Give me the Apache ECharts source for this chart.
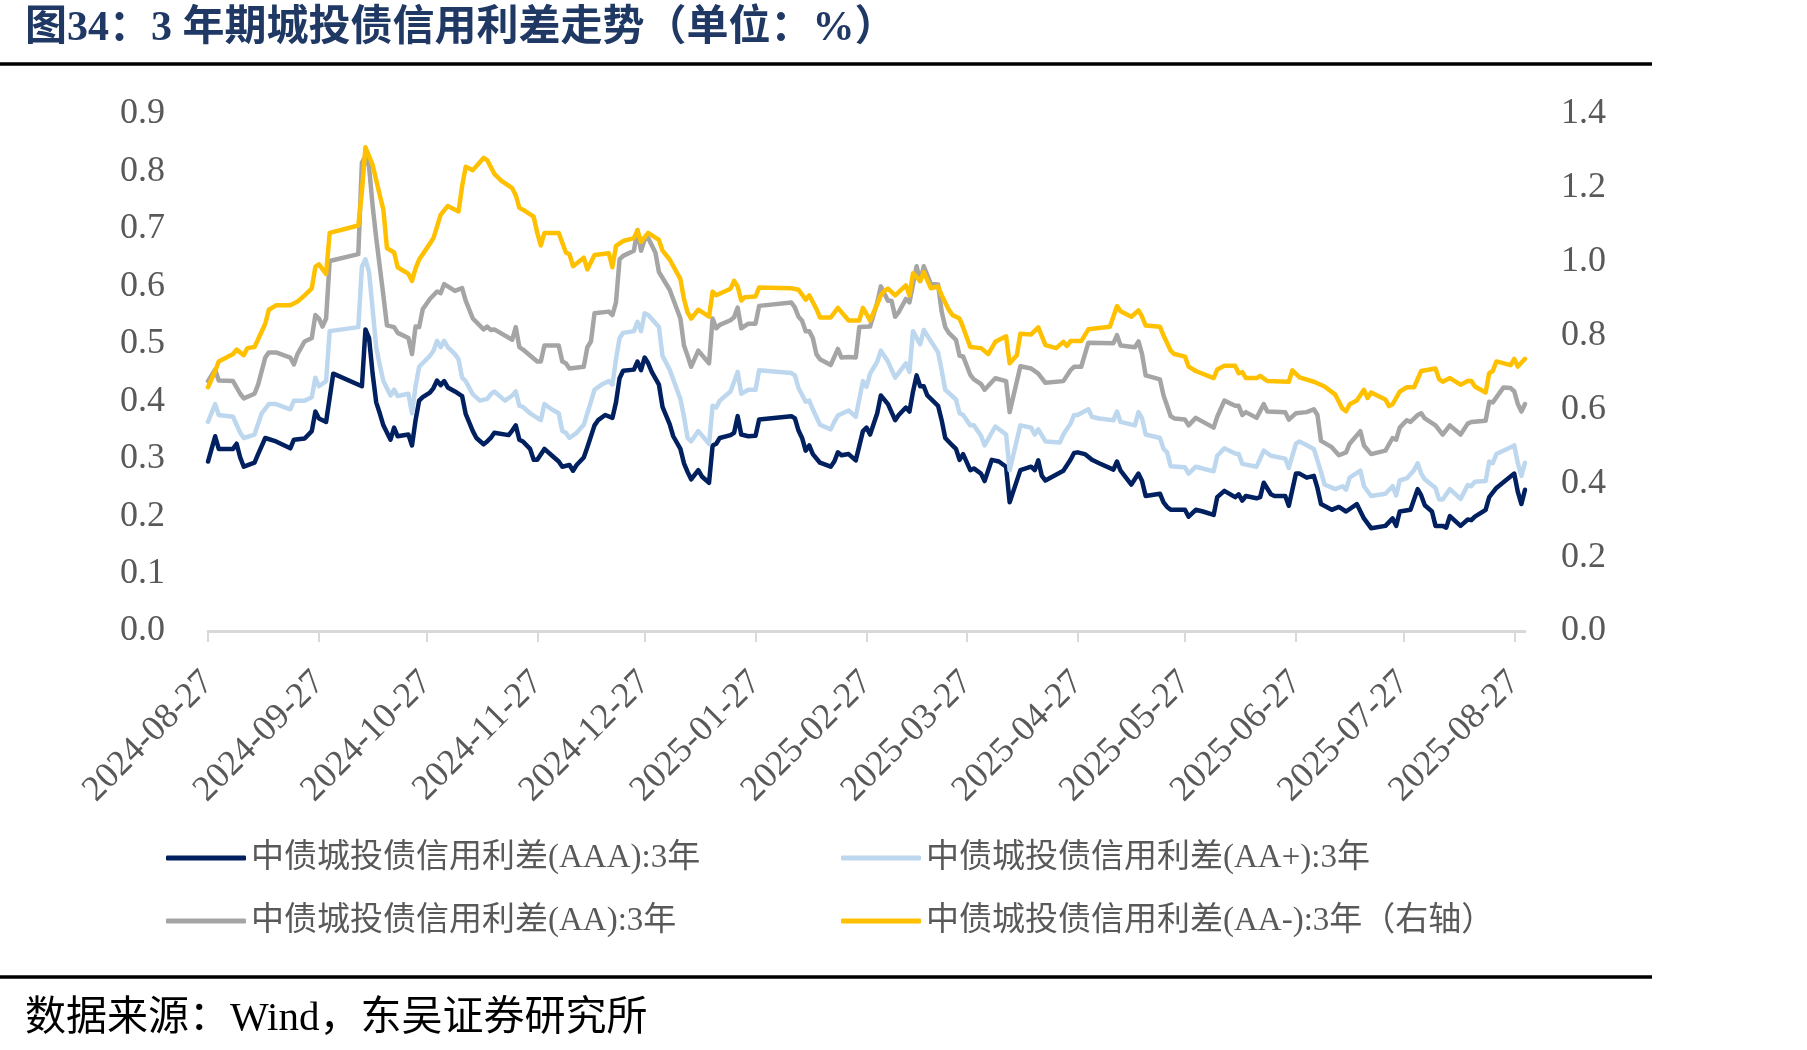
<!DOCTYPE html>
<html>
<head>
<meta charset="utf-8">
<title>3年期城投债信用利差走势</title>
<script src="https://cdn.jsdelivr.net/npm/echarts@6/dist/echarts.min.js"></script>
<style>
  html, body { margin: 0; padding: 0; background: #fff; }
  #chart { width: 1807px; height: 1050px; }
</style>
</head>
<body>
<div id="chart"></div>
<script>
// x values are calendar days counted from 2024-08-27
const tickDays = [0, 31, 61, 92, 122, 153, 184, 212, 243, 273, 304, 334, 365]
const tickLabels = ['2024-08-27', '2024-09-27', '2024-10-27', '2024-11-27', '2024-12-27', '2025-01-27',
  '2025-02-27', '2025-03-27', '2025-04-27', '2025-05-27', '2025-06-27', '2025-07-27', '2025-08-27']
const lastDay = 368

const seriesNames = ['中债城投债信用利差(AAA):3年', '中债城投债信用利差(AA+):3年',
  '中债城投债信用利差(AA):3年', '中债城投债信用利差(AA-):3年（右轴）']

// AAA
const aaaDays = [0,2,3,7,8,9,10,13,14,16,19,23,24,27,29,30,31,33,35,43,44,45,46,47,48,49,51,52,53,56,57,58,59,60,62,63,64,65,66,67,69,71,72,74,75,77,78,79,80,84,85,86,87,88,90,91,92,94,96,98,99,101,102,103,105,106,108,109,111,113,114,115,116,119,120,121,122,123,124,126,127,
  129,130,132,133,134,135,137,138,140,141,142,143,146,147,148,149,151,153,154,163,164,165,166,167,168,169,171,174,175,176,177,179,181,183,184,185,187,188,190,192,193,195,196,197,198,199,200,201,204,205,206,208,209,210,211,213,214,216,217,219,221,223,224,227,230,231,232,233,234,239,241,242,243,245,247,249,253,254,
  255,258,260,261,262,266,267,268,269,273,274,276,278,281,282,284,287,288,289,290,293,294,295,297,298,301,302,304,305,307,309,310,311,314,316,318,321,323,325,329,331,332,333,336,338,339,340,342,343,345,346,347,350,352,353,354,357,358,360,363,365,366,367,368]
const aaaVals = [0.295,0.339,0.317,0.317,0.326,0.302,0.286,0.293,0.308,0.336,0.330,0.318,0.333,0.335,0.348,0.382,0.370,0.364,0.448,0.426,0.525,0.510,0.448,0.398,0.379,0.358,0.333,0.354,0.339,0.342,0.323,0.367,0.401,0.407,0.415,0.423,0.436,0.428,0.435,0.424,0.417,0.409,0.378,0.348,0.336,0.325,0.330,0.336,0.345,0.341,0.349,0.358,0.333,0.330,0.317,0.298,0.298,0.317,0.306,0.295,0.286,0.289,0.279,0.289,0.302,0.320,0.358,0.367,0.376,0.371,0.398,0.440,0.453,0.455,0.469,0.454,0.476,0.466,0.451,0.429,0.390,
  0.360,0.339,0.317,0.292,0.277,0.264,0.280,0.269,0.258,0.323,0.326,0.336,0.341,0.345,0.374,0.342,0.339,0.340,0.368,0.374,0.370,0.349,0.336,0.314,0.323,0.308,0.293,0.286,0.295,0.311,0.306,0.308,0.297,0.348,0.354,0.342,0.379,0.410,0.395,0.367,0.376,0.389,0.382,0.417,0.445,0.426,0.426,0.410,0.392,0.367,0.336,0.323,0.317,0.298,0.308,0.280,0.283,0.274,0.261,0.298,0.295,0.286,0.224,0.280,0.286,0.280,0.297,0.270,0.262,0.279,0.298,0.310,0.311,0.308,0.298,0.292,0.281,0.295,
  0.279,0.255,0.274,0.261,0.235,0.239,0.224,0.216,0.211,0.211,0.199,0.211,0.208,0.202,0.233,0.244,0.233,0.238,0.227,0.235,0.231,0.233,0.258,0.238,0.235,0.235,0.218,0.274,0.274,0.267,0.270,0.249,0.221,0.211,0.216,0.208,0.221,0.196,0.179,0.183,0.196,0.183,0.208,0.211,0.247,0.236,0.219,0.208,0.183,0.183,0.180,0.200,0.183,0.194,0.193,0.199,0.211,0.233,0.249,0.264,0.274,0.242,0.221,0.246]

// AA+
const aapDays = [0,2,3,7,9,10,13,15,17,19,23,24,27,29,30,31,33,34,42,43,44,45,46,47,48,49,51,52,53,56,57,58,59,62,63,64,65,66,67,69,70,71,72,74,76,78,79,80,83,85,86,87,88,90,93,94,96,98,99,100,101,103,105,106,108,110,112,113,114,115,116,119,120,121,122,123,126,127,
  129,132,133,134,135,137,140,141,142,143,146,148,149,151,153,154,163,164,165,167,168,169,171,174,175,176,179,181,183,184,185,187,188,190,192,195,196,197,199,200,204,205,206,209,210,211,213,214,216,217,220,223,224,227,230,231,232,234,238,239,241,242,243,246,247,249,253,254,
  255,259,260,261,262,266,267,268,269,273,274,276,281,282,284,287,288,289,293,295,297,301,302,304,305,309,311,312,315,317,318,319,322,323,325,329,331,332,333,335,337,338,339,340,343,344,345,347,350,352,353,354,357,358,359,360,364,365,366,367,368]
const aapVals = [0.364,0.395,0.376,0.373,0.345,0.336,0.342,0.379,0.395,0.395,0.386,0.401,0.401,0.407,0.441,0.426,0.435,0.522,0.529,0.634,0.647,0.625,0.560,0.494,0.463,0.435,0.410,0.420,0.409,0.413,0.379,0.426,0.460,0.479,0.488,0.505,0.494,0.505,0.494,0.482,0.473,0.441,0.435,0.412,0.401,0.404,0.412,0.417,0.401,0.410,0.417,0.392,0.390,0.379,0.367,0.395,0.386,0.379,0.348,0.345,0.336,0.345,0.359,0.379,0.420,0.429,0.435,0.429,0.473,0.510,0.519,0.522,0.538,0.522,0.553,0.550,0.529,0.479,
  0.455,0.404,0.373,0.336,0.330,0.348,0.326,0.392,0.389,0.401,0.417,0.451,0.413,0.420,0.420,0.454,0.449,0.445,0.423,0.399,0.401,0.386,0.359,0.351,0.364,0.375,0.384,0.373,0.435,0.425,0.448,0.469,0.488,0.469,0.441,0.466,0.451,0.522,0.499,0.524,0.485,0.454,0.420,0.403,0.379,0.376,0.358,0.358,0.340,0.323,0.356,0.342,0.280,0.358,0.354,0.342,0.351,0.330,0.328,0.342,0.361,0.376,0.376,0.386,0.373,0.370,0.367,0.382,
  0.364,0.358,0.381,0.370,0.342,0.336,0.317,0.311,0.287,0.285,0.274,0.286,0.278,0.305,0.318,0.309,0.308,0.291,0.286,0.314,0.305,0.300,0.284,0.326,0.330,0.317,0.277,0.255,0.247,0.252,0.246,0.267,0.279,0.252,0.235,0.239,0.252,0.236,0.262,0.266,0.280,0.292,0.274,0.264,0.249,0.229,0.229,0.247,0.230,0.254,0.252,0.260,0.261,0.295,0.292,0.308,0.320,0.323,0.292,0.270,0.293]

// AA
const aaDays = [0,2,3,7,9,10,13,14,16,17,19,23,24,25,27,29,30,31,32,33,34,42,43,44,45,46,47,48,49,50,52,53,56,57,58,59,60,62,64,65,66,69,71,72,74,77,78,79,80,85,86,87,88,92,93,94,98,99,100,101,105,106,107,108,112,113,114,115,116,119,120,121,122,123,125,126,
  129,132,133,134,135,137,140,141,142,143,146,147,148,149,151,153,154,163,164,165,166,167,168,169,170,171,174,176,177,179,181,182,185,187,188,190,191,192,193,195,196,198,199,200,202,204,205,206,207,209,210,211,213,214,216,217,220,223,224,227,230,232,234,239,241,242,244,246,253,254,
  255,259,260,261,262,266,267,268,269,270,273,274,276,281,282,284,287,288,289,290,293,295,296,301,302,304,307,309,310,311,314,316,318,319,322,323,325,329,331,332,333,335,336,338,339,340,343,345,347,350,352,353,357,358,359,362,364,365,366,367,368]
const aaVals = [0.435,0.455,0.436,0.435,0.413,0.405,0.413,0.429,0.476,0.485,0.485,0.476,0.464,0.482,0.504,0.510,0.550,0.544,0.530,0.544,0.644,0.656,0.815,0.827,0.808,0.740,0.684,0.634,0.584,0.532,0.529,0.519,0.510,0.482,0.530,0.529,0.560,0.578,0.591,0.588,0.604,0.592,0.597,0.575,0.544,0.525,0.530,0.524,0.525,0.507,0.529,0.494,0.490,0.469,0.469,0.497,0.497,0.469,0.466,0.457,0.460,0.494,0.504,0.553,0.556,0.550,0.572,0.647,0.653,0.662,0.698,0.662,0.681,0.684,0.659,0.625,
  0.594,0.544,0.497,0.479,0.460,0.488,0.466,0.544,0.527,0.533,0.541,0.546,0.563,0.527,0.535,0.535,0.566,0.572,0.563,0.547,0.540,0.522,0.522,0.510,0.482,0.473,0.463,0.491,0.476,0.477,0.476,0.529,0.530,0.572,0.600,0.575,0.575,0.547,0.555,0.578,0.572,0.635,0.609,0.635,0.604,0.603,0.556,0.529,0.519,0.507,0.479,0.478,0.446,0.438,0.430,0.420,0.440,0.435,0.381,0.461,0.457,0.448,0.432,0.435,0.454,0.460,0.460,0.502,0.501,0.515,
  0.497,0.494,0.504,0.482,0.445,0.438,0.410,0.392,0.374,0.370,0.368,0.358,0.371,0.354,0.373,0.401,0.392,0.392,0.376,0.381,0.371,0.395,0.382,0.381,0.368,0.379,0.381,0.386,0.376,0.331,0.320,0.306,0.311,0.326,0.348,0.323,0.308,0.314,0.336,0.333,0.354,0.367,0.364,0.376,0.379,0.370,0.358,0.342,0.358,0.342,0.361,0.364,0.366,0.399,0.398,0.424,0.423,0.417,0.395,0.382,0.395]

// AA- (right axis)
const aamDays = [0,2,3,7,8,9,10,11,13,16,17,19,23,25,27,29,30,31,33,34,42,43,44,46,48,49,50,52,53,56,57,58,59,62,63,65,67,70,71,72,74,77,78,80,82,85,86,87,88,91,92,93,94,98,100,101,102,105,106,108,112,113,114,116,119,120,121,123,126,127,
  129,132,133,134,135,137,140,141,142,146,147,148,149,150,153,154,163,165,166,167,168,170,171,174,176,179,182,183,185,187,188,189,190,192,195,196,197,199,200,202,204,205,207,208,210,211,213,216,218,220,223,224,226,227,230,232,234,237,239,240,241,244,246,252,254,
  255,258,260,261,262,266,267,268,269,270,273,274,276,281,282,284,287,288,289,290,293,294,296,302,303,305,309,312,315,317,318,319,321,323,324,325,329,330,331,333,335,337,339,343,344,345,347,350,352,353,354,357,358,359,360,364,365,366,368]
const aamVals = [0.660,0.704,0.730,0.750,0.762,0.754,0.747,0.766,0.769,0.832,0.870,0.882,0.882,0.892,0.909,0.928,0.986,0.993,0.967,1.078,1.098,1.190,1.310,1.262,1.180,1.141,1.037,1.025,0.985,0.967,0.948,0.982,1.006,1.049,1.064,1.127,1.151,1.136,1.204,1.257,1.248,1.281,1.275,1.238,1.219,1.199,1.180,1.146,1.141,1.122,1.078,1.044,1.078,1.078,1.025,1.020,0.988,1.011,0.979,1.018,1.023,0.985,1.043,1.056,1.064,1.085,1.054,1.078,1.059,1.030,
  1.006,0.953,0.899,0.863,0.846,0.870,0.851,0.919,0.909,0.927,0.948,0.933,0.895,0.904,0.906,0.930,0.928,0.924,0.911,0.897,0.909,0.872,0.849,0.849,0.875,0.841,0.841,0.875,0.841,0.885,0.909,0.921,0.927,0.909,0.936,0.909,0.969,0.948,0.972,0.928,0.933,0.909,0.870,0.856,0.846,0.822,0.769,0.766,0.750,0.783,0.798,0.725,0.747,0.805,0.803,0.822,0.774,0.766,0.783,0.772,0.785,0.785,0.817,0.824,0.880,
  0.866,0.851,0.868,0.851,0.827,0.824,0.800,0.780,0.759,0.750,0.743,0.716,0.704,0.685,0.708,0.718,0.718,0.698,0.701,0.685,0.685,0.691,0.677,0.675,0.706,0.687,0.675,0.662,0.640,0.602,0.595,0.614,0.624,0.653,0.631,0.646,0.627,0.609,0.614,0.648,0.660,0.660,0.704,0.711,0.682,0.675,0.685,0.667,0.677,0.677,0.662,0.646,0.698,0.704,0.730,0.720,0.737,0.716,0.737]

const colors = ['#002060', '#BDD7EE', '#A5A5A5', '#FFC000']
const serifFont = "'Liberation Serif', 'Noto Sans CJK SC', serif"

function pairs(days, vals) {
  return days.map((d, i) => [d, vals[i]])
}

function makeLine(i, days, vals, axis) {
  return {
    name: seriesNames[i],
    type: 'line',
    yAxisIndex: axis,
    data: pairs(days, vals),
    showSymbol: false,
    symbol: 'none',
    color: colors[i],
    lineStyle: { width: 4.5, color: colors[i], cap: 'round', join: 'round' }
  }
}

function makeLegend(i, left, top) {
  return {
    data: [seriesNames[i]],
    left: left,
    top: top,
    padding: 0,
    icon: 'roundRect',
    itemWidth: 80,
    itemHeight: 5,
    textStyle: { fontSize: 33, color: '#595959', fontFamily: serifFont, lineHeight: 40 }
  }
}

const chart = echarts.init(document.getElementById('chart'))

const option = {
  animation: false,
  backgroundColor: '#fff',
  grid: { left: 208, right: 282, top: 114, bottom: 419, containLabel: false },
  xAxis: {
    type: 'value',
    min: 0,
    max: lastDay,
    splitLine: { show: false },
    axisLine: { show: true, lineStyle: { color: '#D9D9D9', width: 3 } },
    axisTick: { show: true, customValues: tickDays, length: 11, lineStyle: { color: '#D9D9D9', width: 2 } },
    axisLabel: {
      customValues: tickDays,
      rotate: 45,
      margin: 46,
      fontSize: 36,
      color: '#595959',
      fontFamily: serifFont,
      formatter: function (v) {
        const k = tickDays.indexOf(Math.round(v))
        return k >= 0 ? tickLabels[k] : ''
      }
    }
  },
  yAxis: [
    {
      type: 'value', min: 0, max: 0.9, interval: 0.1,
      splitLine: { show: false }, axisLine: { show: false }, axisTick: { show: false },
      axisLabel: { margin: 43, fontSize: 36, color: '#595959', fontFamily: serifFont, formatter: v => v.toFixed(1) }
    },
    {
      type: 'value', min: 0, max: 1.4, interval: 0.2, position: 'right',
      splitLine: { show: false }, axisLine: { show: false }, axisTick: { show: false },
      axisLabel: { margin: 36, fontSize: 36, color: '#595959', fontFamily: serifFont, formatter: v => v.toFixed(1) }
    }
  ],
  legend: [
    makeLegend(0, 166, 838),
    makeLegend(1, 841, 838),
    makeLegend(2, 166, 901),
    makeLegend(3, 841, 901)
  ],
  series: [
    makeLine(0, aaaDays, aaaVals, 0),
    makeLine(1, aapDays, aapVals, 0),
    makeLine(2, aaDays, aaVals, 0),
    makeLine(3, aamDays, aamVals, 1)
  ],
  graphic: [
    {
      type: 'text', left: 25, top: 8,
      style: { text: '图34：3 年期城投债信用利差走势（单位：%）', fontSize: 42, fontWeight: 'bold', fontFamily: serifFont, fill: '#1F3864' }
    },
    { type: 'line', shape: { x1: 0, y1: 64, x2: 1652, y2: 64 }, style: { stroke: '#000', lineWidth: 3.5 } },
    { type: 'line', shape: { x1: 0, y1: 977, x2: 1652, y2: 977 }, style: { stroke: '#000', lineWidth: 3.5 } },
    {
      type: 'text', left: 25, top: 999,
      style: { text: '数据来源：Wind，东吴证券研究所', fontSize: 41, fontFamily: serifFont, fill: '#000' }
    }
  ]
}

chart.setOption(option)
</script>
</body>
</html>
